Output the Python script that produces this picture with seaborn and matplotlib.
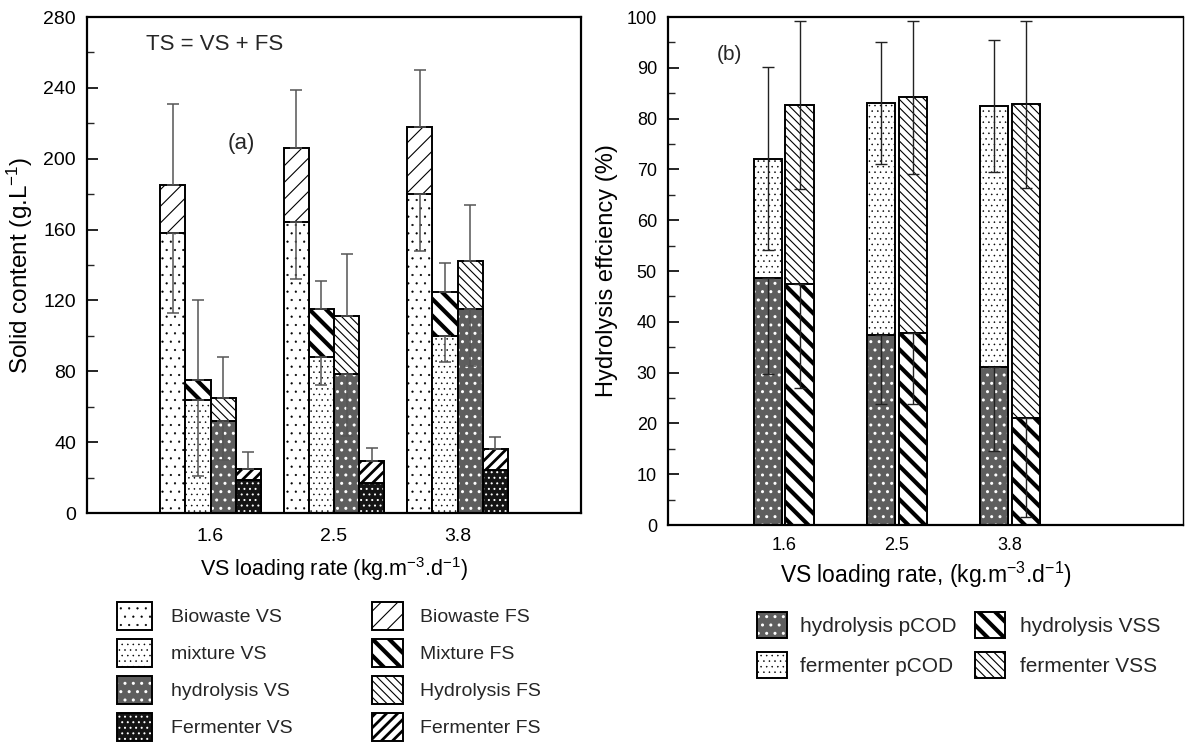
import matplotlib
matplotlib.use("Agg")
import matplotlib.pyplot as plt
import seaborn as sns
import pandas as pd
import numpy as np
from matplotlib.patches import Patch, Rectangle
from matplotlib.ticker import MultipleLocator
from matplotlib.legend_handler import HandlerTuple, HandlerPatch

# ---------------- data ----------------
loadings = ["1.6", "2.5", "3.8"]

# panel (a): solid content (g/L)
sources_a = ["Biowaste", "mixture", "hydrolysis", "Fermenter"]
biowaste_vs = [158, 164, 180]
biowaste_ts = [185, 206, 218]
biowaste_ts_err = [46, 33, 32]
biowaste_vs_err = [45, 32, 32]
mixture_vs = [64, 88, 100]
mixture_ts = [75, 115, 125]
mixture_ts_err = [45, 16, 16]
mixture_vs_err = [43, 16, 15]
hydrolysis_vs = [52, 78.5, 115]
hydrolysis_ts = [65, 111, 142]
hydrolysis_ts_err = [23, 35, 32]
hydrolysis_vs_err = [22, 35, 32]
fermenter_vs = [18.5, 17, 24.5]
fermenter_ts = [25, 29.5, 36]
fermenter_ts_err = [9.5, 7, 7]
fermenter_vs_err = [0, 0, 0]

# panel (b): hydrolysis efficiency (%)
kinds_b = ["pCOD", "VSS"]
hydrolysis_pcod = [48.7, 37.5, 31.1]
fermenter_pcod_total = [72.1, 83.1, 82.5]
fermenter_pcod_err = [18, 12, 13]
hydrolysis_pcod_err = [19, 13.6, 16.6]
hydrolysis_vss = [47.5, 37.7, 21.0]
fermenter_vss_total = [82.7, 84.2, 82.8]
fermenter_vss_err = [16.6, 15.1, 16.4]
hydrolysis_vss_err = [20.6, 13.8, 19.5]

legend_a_vs = ["Biowaste VS", "mixture VS", "hydrolysis VS", "Fermenter VS"]
legend_a_fs = ["Biowaste FS", "Mixture FS", "Hydrolysis FS", "Fermenter FS"]
legend_b_h = ["hydrolysis pCOD", "fermenter pCOD"]
legend_b_v = ["hydrolysis VSS", "fermenter VSS"]

# ---------------- styles ----------------
sns.set_theme(style="ticks")
plt.rcParams["font.family"] = ["Liberation Sans", "DejaVu Sans"]
plt.rcParams["mathtext.default"] = "regular"
plt.rcParams["hatch.linewidth"] = 1.0

# (facecolor, hatchcolor, hatch, hatch linewidth)
sty_bio_vs = ("white", "black", "..", 0.35)
sty_mix_vs = ("white", "black", "...", 0.35)
sty_hyd_vs = ("#5e5e5e", "white", "..", 1.0)
sty_fer_vs = ("#141414", "white", "...", 0.7)
sty_bio_fs = ("white", "black", "//", 0.8)
sty_mix_fs = ("white", "black", "\\\\", 3.0)
sty_hyd_fs = ("white", "black", "\\\\\\\\", 0.8)
sty_fer_fs = ("white", "black", "///", 2.0)

vs_styles = [sty_bio_vs, sty_mix_vs, sty_hyd_vs, sty_fer_vs]
fs_styles = [sty_bio_fs, sty_mix_fs, sty_hyd_fs, sty_fer_fs]
b_low_styles = [sty_hyd_vs, sty_mix_fs]
b_top_styles = [sty_mix_vs, sty_hyd_fs]

EDGE_LW = 1.4


def style_container(ax, container, sty):
    fc, hc, hatch, hlw = sty
    for p in container:
        p.set_facecolor(fc)
        p.set_hatch(hatch)
        if hasattr(p, "set_hatch_linewidth"):
            p.set_hatch_linewidth(hlw)
        if hc == "black":
            p.set_edgecolor("black")
            p.set_linewidth(EDGE_LW)
        else:
            p.set_edgecolor(hc)
            p.set_linewidth(0)
            ax.add_patch(Rectangle(p.get_xy(), p.get_width(), p.get_height(),
                                   fill=False, edgecolor="black", lw=EDGE_LW,
                                   zorder=p.get_zorder()))


def centers(container):
    return [p.get_x() + p.get_width() / 2 for p in container]


def mk_patch(fc, ec, hatch, lw, hlw):
    h = Patch(facecolor=fc, edgecolor=ec, hatch=hatch, lw=lw)
    if hasattr(h, "set_hatch_linewidth"):
        h.set_hatch_linewidth(hlw)
    return h


def legend_handle(sty):
    fc, hc, hatch, hlw = sty
    if hc == "black":
        return mk_patch(fc, "black", hatch, EDGE_LW, hlw)
    return (mk_patch(fc, hc, hatch, 0, hlw),
            Patch(facecolor="none", edgecolor="black", lw=EDGE_LW))


class HatchHandler(HandlerPatch):
    def create_artists(self, legend, orig_handle, xdescent, ydescent, width,
                       height, fontsize, trans):
        arts = super().create_artists(legend, orig_handle, xdescent, ydescent,
                                      width, height, fontsize, trans)
        for a in arts:
            if hasattr(a, "set_hatch_linewidth") and hasattr(orig_handle, "get_hatch_linewidth"):
                a.set_hatch_linewidth(orig_handle.get_hatch_linewidth())
        return arts


fig = plt.figure(figsize=(11.85, 7.45), dpi=100)
W, H = 1185, 745
ax1 = fig.add_axes([87 / W, 1 - 513 / H, (581 - 87) / W, (513 - 17) / H])
ax2 = fig.add_axes([668 / W, 1 - 525 / H, (1183 - 668) / W, (525 - 17) / H])

# ---------------- panel (a) ----------------
df_ts = pd.DataFrame({
    "loading": loadings * 4,
    "source": np.repeat(sources_a, 3),
    "value": biowaste_ts + mixture_ts + hydrolysis_ts + fermenter_ts,
})
df_vs = pd.DataFrame({
    "loading": loadings * 4,
    "source": np.repeat(sources_a, 3),
    "value": biowaste_vs + mixture_vs + hydrolysis_vs + fermenter_vs,
})
pal_a = {s: "white" for s in sources_a}
sns.barplot(data=df_ts, x="loading", y="value", hue="source", order=loadings,
            hue_order=sources_a, palette=pal_a, saturation=1, width=0.81,
            errorbar=None, legend=False, ax=ax1)
sns.barplot(data=df_vs, x="loading", y="value", hue="source", order=loadings,
            hue_order=sources_a, palette=pal_a, saturation=1, width=0.81,
            errorbar=None, legend=False, ax=ax1)
ts_conts = ax1.containers[:4]
vs_conts = ax1.containers[4:8]
for c, s in zip(ts_conts, fs_styles):
    style_container(ax1, c, s)
for c, s in zip(vs_conts, vs_styles):
    style_container(ax1, c, s)

ts_vals = [biowaste_ts, mixture_ts, hydrolysis_ts, fermenter_ts]
ts_errs = [biowaste_ts_err, mixture_ts_err, hydrolysis_ts_err, fermenter_ts_err]
vs_vals = [biowaste_vs, mixture_vs, hydrolysis_vs, fermenter_vs]
vs_errs = [biowaste_vs_err, mixture_vs_err, hydrolysis_vs_err, fermenter_vs_err]
for c, v, e in zip(ts_conts, ts_vals, ts_errs):
    ax1.errorbar(centers(c), v, yerr=[np.zeros(3), e], fmt="none",
                 ecolor="#555555", elinewidth=1.1, capsize=4, capthick=1.1, zorder=6)
for c, v, e in zip(vs_conts, vs_vals, vs_errs):
    if max(e) > 0:
        ax1.errorbar(centers(c), v, yerr=[e, np.zeros(3)], fmt="none",
                     ecolor="#555555", elinewidth=1.1, capsize=4, capthick=1.1, zorder=6)

ax1.set_xlim(-1, 3)
ax1.set_ylim(0, 280)
ax1.yaxis.set_major_locator(MultipleLocator(40))
ax1.yaxis.set_minor_locator(MultipleLocator(20))
ax1.set_xlabel("VS loading rate (kg.m$^{-3}$.d$^{-1}$)", fontsize=15.5, labelpad=7)
ax1.set_ylabel("Solid content (g.L$^{-1}$)", fontsize=17.5, labelpad=6)
ax1.text(-0.52, 264.5, "TS = VS + FS", fontsize=16, va="center", ha="left")
ax1.text(0.25, 208.5, "(a)", fontsize=16, va="center", ha="center")

# ---------------- panel (b) ----------------
df_btot = pd.DataFrame({
    "loading": loadings * 2,
    "kind": np.repeat(kinds_b, 3),
    "value": fermenter_pcod_total + fermenter_vss_total,
})
df_blow = pd.DataFrame({
    "loading": loadings * 2,
    "kind": np.repeat(kinds_b, 3),
    "value": hydrolysis_pcod + hydrolysis_vss,
})
pal_b = {k: "white" for k in kinds_b}
sns.barplot(data=df_btot, x="loading", y="value", hue="kind", order=loadings,
            hue_order=kinds_b, palette=pal_b, saturation=1, width=0.56, gap=0.1,
            errorbar=None, legend=False, ax=ax2)
sns.barplot(data=df_blow, x="loading", y="value", hue="kind", order=loadings,
            hue_order=kinds_b, palette=pal_b, saturation=1, width=0.56, gap=0.1,
            errorbar=None, legend=False, ax=ax2)
tot_conts = ax2.containers[:2]
low_conts = ax2.containers[2:4]
for c, s in zip(tot_conts, b_top_styles):
    style_container(ax2, c, s)
for c, s in zip(low_conts, b_low_styles):
    style_container(ax2, c, s)

for c, v, e in zip(tot_conts, [fermenter_pcod_total, fermenter_vss_total],
                   [fermenter_pcod_err, fermenter_vss_err]):
    ax2.errorbar(centers(c), v, yerr=e, fmt="none", ecolor="#222222",
                 elinewidth=1.0, capsize=4, capthick=1.0, zorder=6)
for c, v, e in zip(low_conts, [hydrolysis_pcod, hydrolysis_vss],
                   [hydrolysis_pcod_err, hydrolysis_vss_err]):
    ax2.errorbar(centers(c), v, yerr=[e, np.zeros(3)], fmt="none", ecolor="#222222",
                 elinewidth=1.0, capsize=4, capthick=1.0, zorder=6)

ax2.set_xlim(-1.025, 3.53)
ax2.set_ylim(0, 100)
ax2.yaxis.set_major_locator(MultipleLocator(10))
ax2.yaxis.set_minor_locator(MultipleLocator(5))
ax2.set_xlabel("VS loading rate, (kg.m$^{-3}$.d$^{-1}$)", fontsize=16.5, labelpad=4)
ax2.set_ylabel("Hydrolysis effciency (%)", fontsize=17, labelpad=6)
ax2.text(-0.48, 92.7, "(b)", fontsize=15, va="center", ha="center")

for ax, tfs, xpad in ((ax1, 14, 11), (ax2, 13, 9)):
    for sp in ax.spines.values():
        sp.set_visible(True)
        sp.set_color("black")
        sp.set_linewidth(1.6)
    ax.tick_params(axis="x", length=0, pad=xpad, labelsize=tfs, colors="black")
    ax.tick_params(axis="y", which="major", direction="in", length=8, width=1.2,
                   labelsize=tfs, pad=8, colors="black", left=True, right=False)
    ax.tick_params(axis="y", which="minor", direction="in", length=5, width=1.0,
                   left=True, right=False)
    ax.yaxis.label.set_color("black")
    ax.xaxis.label.set_color("black")
ax2.spines["right"].set_linewidth(1.0)

# ---------------- legends ----------------
hmap = {Patch: HatchHandler(), tuple: HandlerTuple(ndivide=1)}


def add_legend(labels, styles, x, y, fs, hl, hh, ls, htp):
    handles = [legend_handle(s) for s in styles]
    fig.legend(handles, labels, loc="upper left", bbox_to_anchor=(x / W, 1 - y / H),
               frameon=False, fontsize=fs, handlelength=hl, handleheight=hh,
               labelspacing=ls, handletextpad=htp, borderpad=0, borderaxespad=0,
               handler_map=hmap)


add_legend(legend_a_vs, vs_styles, 117, 602, 14, 1.8, 1.8, 0.49, 1.0)
add_legend(legend_a_fs, fs_styles, 372, 602, 14, 1.6, 1.8, 0.49, 0.85)
add_legend(legend_b_h, [sty_hyd_vs, sty_mix_vs], 757, 612, 15, 1.45, 1.55, 0.66, 0.6)
add_legend(legend_b_v, [sty_mix_fs, sty_hyd_fs], 975, 612, 15, 1.45, 1.55, 0.66, 0.72)

fig.savefig("out.png", dpi=100)
